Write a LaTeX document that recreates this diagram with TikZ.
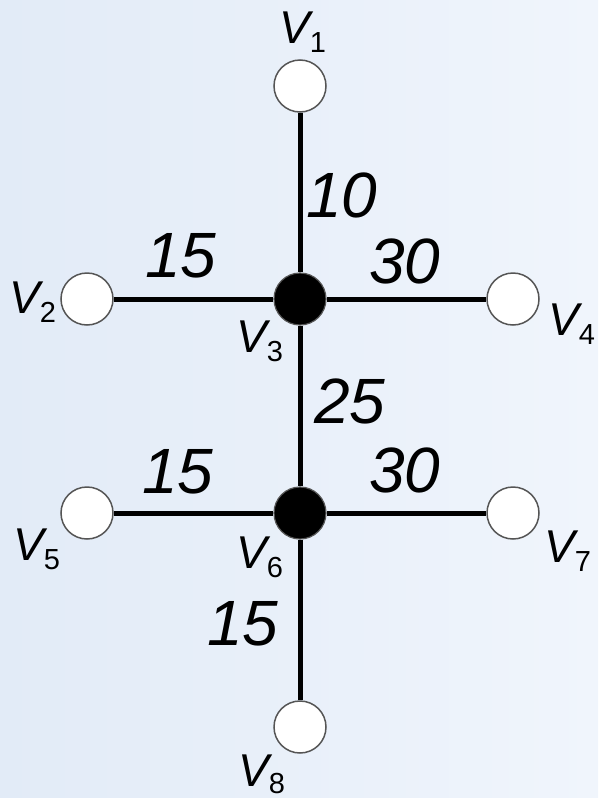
\documentclass[tikz,border=0pt]{standalone}
\usepackage{fontspec}
\setmainfont{Liberation Sans}
\definecolor{bgleft}{RGB}{226,235,247}
\definecolor{bgright}{RGB}{240,245,252}
\definecolor{rimgray}{RGB}{85,85,85}
\newcommand{\vlab}[1]{{\fontsize{46}{46}\selectfont\itshape V}{\fontsize{29}{29}\selectfont\raisebox{-9pt}{#1}}}
\newcommand{\vlabb}[1]{{\fontsize{46}{46}\selectfont\itshape V}{\fontsize{29}{29}\selectfont\raisebox{-7pt}{#1}}}
\begin{document}
\begin{tikzpicture}[x=1pt,y=-1pt,
  vert/.style={circle,minimum size=52pt,inner sep=0pt,draw=rimgray,line width=1.5pt,fill=white},
  hub/.style={circle,minimum size=52pt,inner sep=0pt,draw=rimgray,line width=1.2pt,fill=black},
  edge/.style={line width=5pt,black},
  wt/.style={anchor=base,inner sep=0pt,font=\fontsize{64}{64}\selectfont\itshape},
  lab/.style={anchor=base west,inner sep=0pt}]
\shade[left color=bgleft,right color=bgright] (0,0) rectangle (598,798);
\useasboundingbox (0,0) rectangle (598,798);
% vertices
\node[vert] (v1) at (300,86) {};
\node[vert] (v2) at (87,299) {};
\node[hub]  (v3) at (300,299) {};
\node[vert] (v4) at (513,299) {};
\node[vert] (v5) at (87,513) {};
\node[hub]  (v6) at (300,513) {};
\node[vert] (v7) at (513,513) {};
\node[vert] (v8) at (300,727) {};
% edges
\draw[edge] (v1) -- (v3);
\draw[edge] (v2) -- (v3);
\draw[edge] (v3) -- (v4);
\draw[edge] (v3) -- (v6);
\draw[edge] (v5) -- (v6);
\draw[edge] (v6) -- (v7);
\draw[edge] (v6) -- (v8);
% vertex labels
\node[lab] (l1) at (279,43) {\vlab{1}};
\node[lab] (l2) at (9,313) {\vlab{2}};
\node[lab] (l3) at (236,352) {\vlab{3}};
\node[lab] (l4) at (548,335) {\vlab{4}};
\node[lab] (l5) at (13,560) {\vlab{5}};
\node[lab] (l6) at (236,568) {\vlab{6}};
\node[lab] (l7) at (544,562) {\vlab{7}};
\node[lab] (l8) at (238,786) {\vlabb{8}};
% weights
\node[wt] (w13) at (342,217) {10};
\node[wt] (w23) at (181,277) {15};
\node[wt] (w34) at (405,283) {30};
\node[wt] (w36) at (350,423) {25};
\node[wt] (w56) at (178,493) {15};
\node[wt] (w67) at (405,492) {30};
\node[wt] (w68) at (243,645) {15};
\end{tikzpicture}
\end{document}
